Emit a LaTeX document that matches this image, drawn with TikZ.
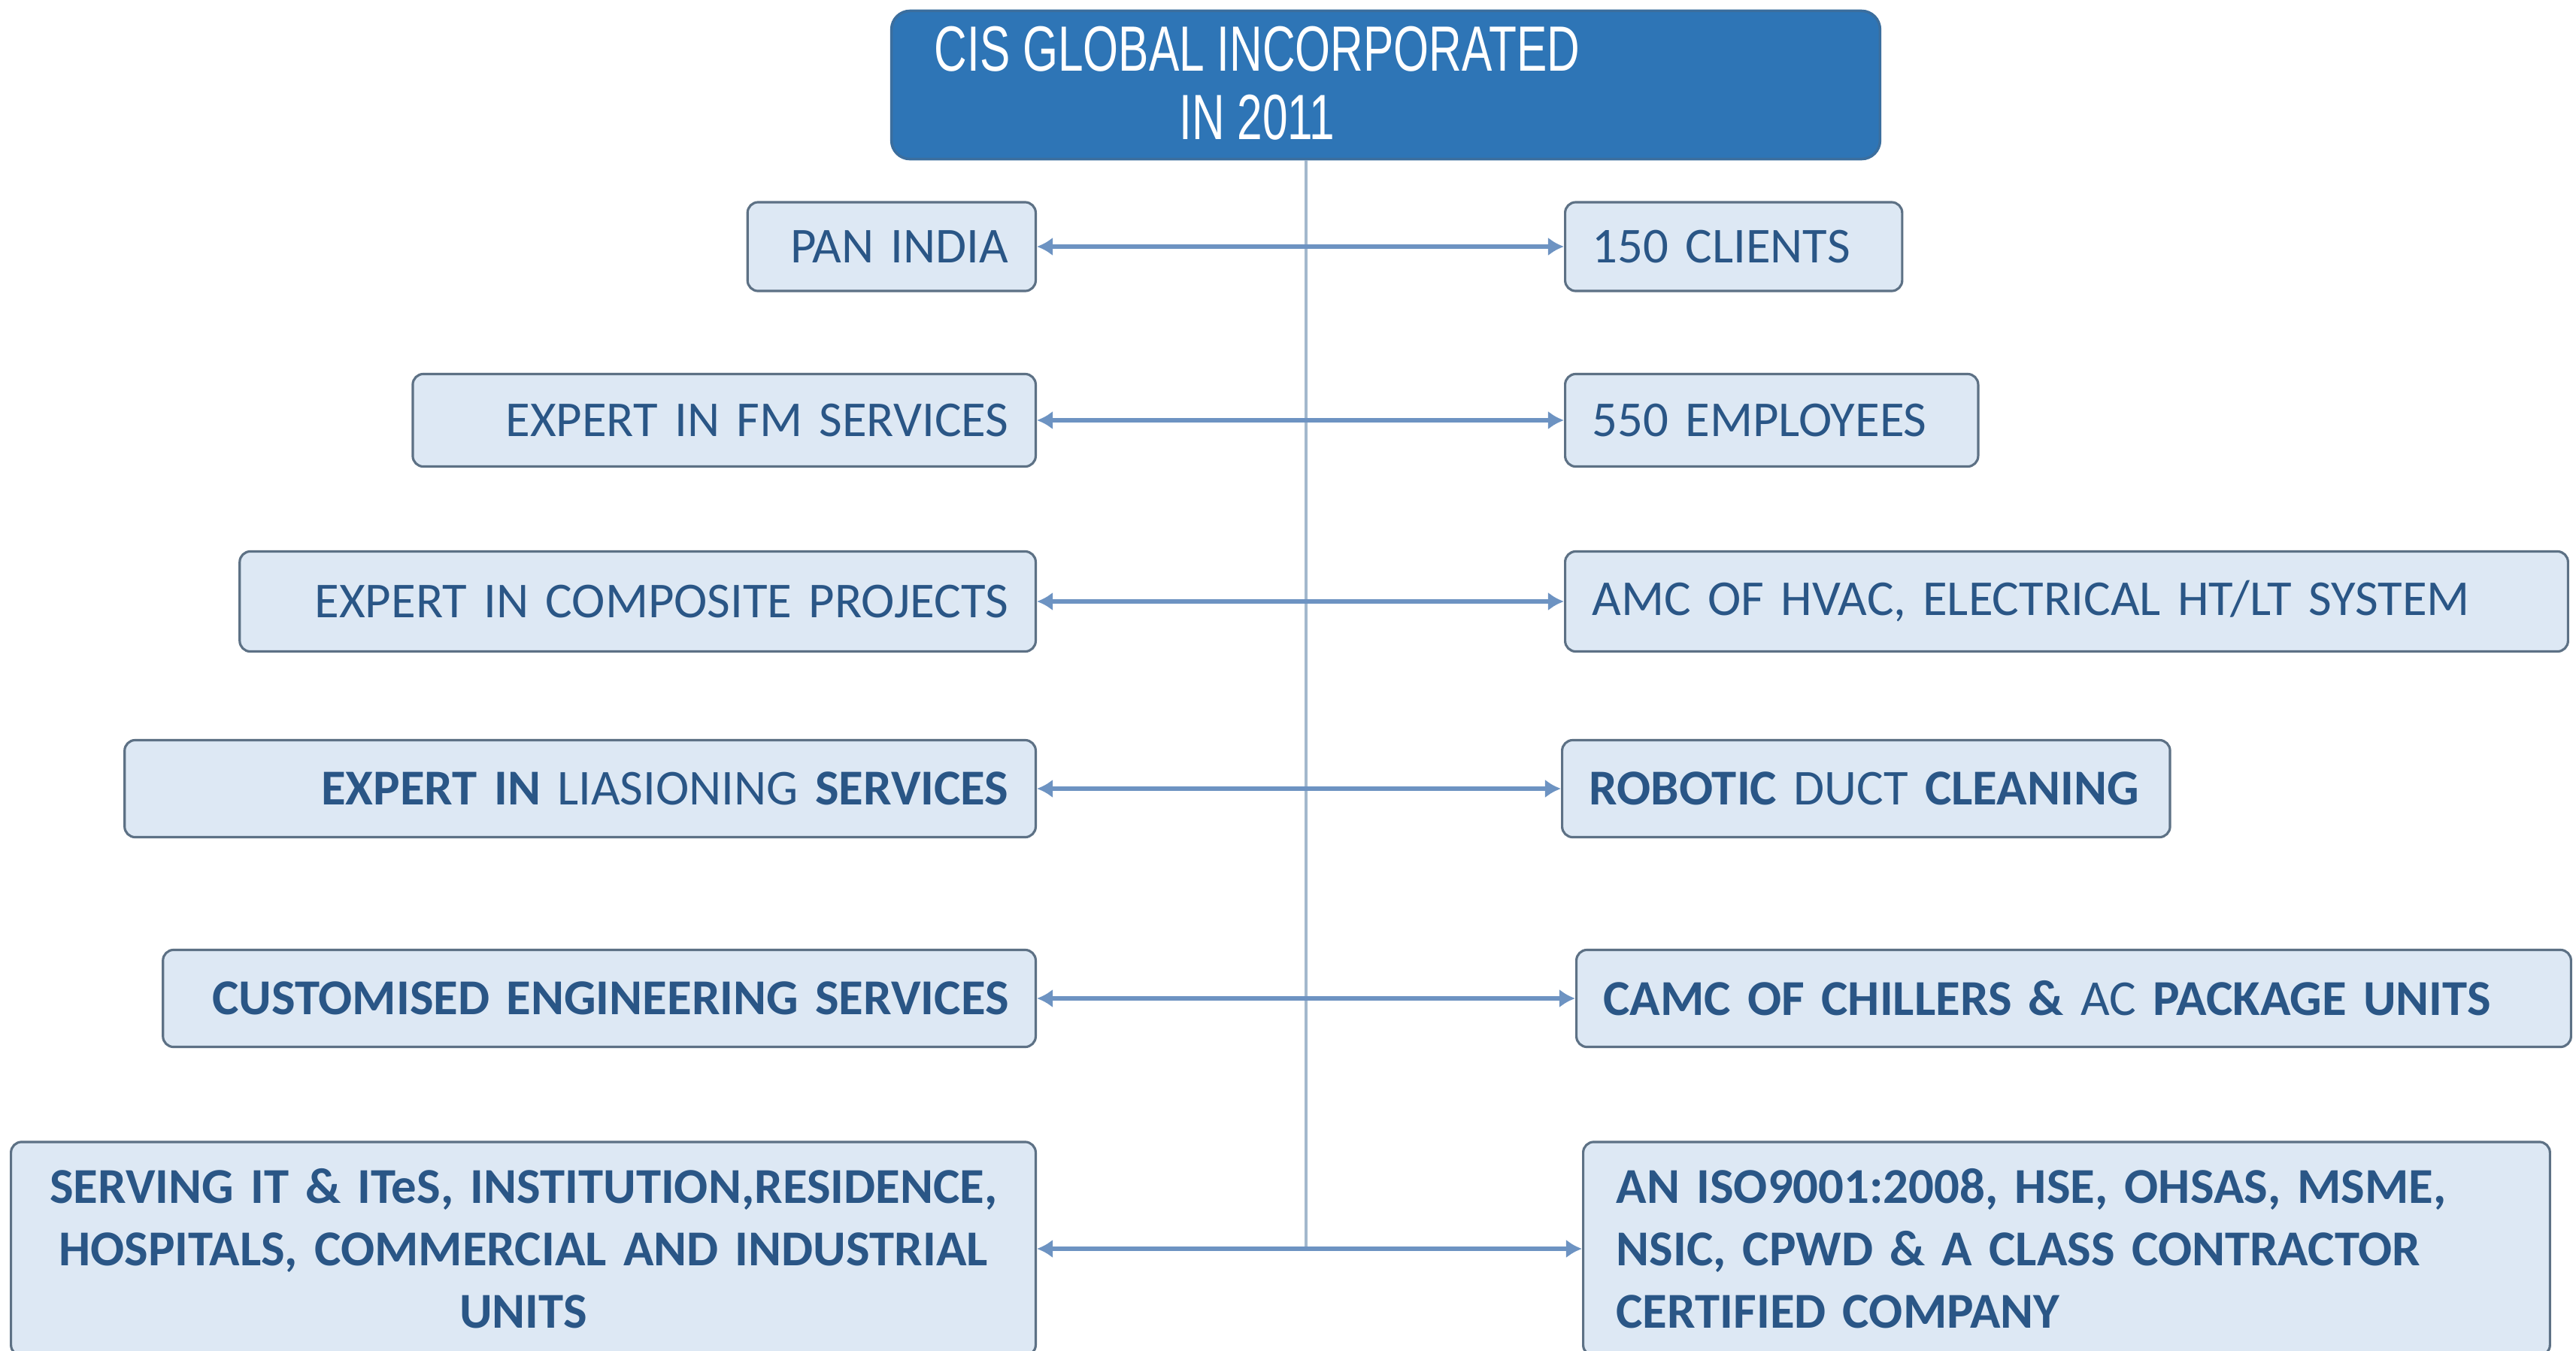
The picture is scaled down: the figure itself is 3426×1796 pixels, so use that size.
\documentclass[tikz,border=0pt]{standalone}
\usepackage{fontspec}
\usetikzlibrary{arrows.meta}
\newfontfamily\itemfont{Carlito}
\newfontfamily\titlefont{Liberation Sans}
\definecolor{titlefill}{HTML}{2E75B6}
\definecolor{titleline}{HTML}{3B6E9E}
\definecolor{itemfill}{HTML}{DDE8F4}
\definecolor{itemline}{HTML}{5D7185}
\definecolor{itemtext}{HTML}{2A5686}
\definecolor{linkblue}{HTML}{6D93C2}
\definecolor{stemblue}{HTML}{A3B8CD}
\tikzset{
	item/.style={draw=itemline, fill=itemfill, line width=0.9pt, rounded corners=4pt,
		inner xsep=0.36cm, inner ysep=0pt, text=itemtext,
		font=\itemfont\fontsize{19}{23.6}\selectfont},
	left item/.style={item, anchor=east, align=right},
	right item/.style={item, anchor=west, align=left},
	bold item/.style={font=\itemfont\fontsize{19}{23.6}\selectfont\bfseries},
	link/.style={linkblue, line width=1.8pt, {Latex[length=6pt,width=7pt]}-{Latex[length=6pt,width=7pt]}}
	}

\begin{document}
\begin{tikzpicture}[x=0.01cm, y=-0.01cm]

	\path[use as bounding box, fill=white] (0,0) rectangle (3426,1796);

	% title box
	\node[draw=titleline, fill=titlefill, line width=1pt, rounded corners=7pt,
		minimum width=13.14cm, minimum height=1.97cm] (top) at (1843,113) {};
	\node[text=white, inner sep=0pt, font=\titlefont\fontsize{24.2}{25.9}\selectfont] (title) at (1672,122)
		{\scalebox{0.71}[1]{\begin{tabular}{@{}c@{}}CIS GLOBAL INCORPORATED\\IN 2011\end{tabular}}};

	% left column
	\node[left item, minimum width=3.83cm, text width=3.11cm, minimum height=1.18cm] (pan) at (1379,328) {PAN INDIA};
	\node[left item, minimum width=8.28cm, text width=7.56cm, minimum height=1.23cm] (fm) at (1379,559) {EXPERT IN FM SERVICES};
	\node[left item, minimum width=10.58cm, text width=9.86cm, minimum height=1.33cm] (composite) at (1379,800) {EXPERT IN COMPOSITE PROJECTS};
	\node[left item, minimum width=12.11cm, text width=11.39cm, minimum height=1.29cm] (liaison) at (1379,1049)
		{\textbf{EXPERT IN} LIASIONING \textbf{SERVICES}};
	\node[left item, bold item, minimum width=11.60cm, text width=10.88cm, minimum height=1.29cm] (engg) at (1379,1328)
		{CUSTOMISED ENGINEERING SERVICES};
	\node[left item, bold item, align=center, minimum width=13.62cm, text width=12.90cm, minimum height=2.84cm] (sectors) at (1379,1661)
		{SERVING IT \& ITeS, INSTITUTION,RESIDENCE,\\HOSPITALS, COMMERCIAL AND INDUSTRIAL\\UNITS};

	% right column
	\node[right item, minimum width=4.48cm, text width=3.76cm, minimum height=1.18cm] (clients) at (2080,328) {150 CLIENTS};
	\node[right item, minimum width=5.49cm, text width=4.77cm, minimum height=1.23cm] (staff) at (2080,559) {550 EMPLOYEES};
	\node[right item, minimum width=13.33cm, text width=12.61cm, minimum height=1.33cm] (hvac) at (2080,800)
		{AMC OF HVAC, ELECTRICAL HT/LT SYSTEM};
	\node[right item, minimum width=8.08cm, text width=7.36cm, minimum height=1.29cm] (robotic) at (2076,1049)
		{\textbf{ROBOTIC} DUCT \textbf{CLEANING}};
	\node[right item, minimum width=13.22cm, text width=12.50cm, minimum height=1.29cm] (camc) at (2095,1328)
		{\textbf{CAMC OF CHILLERS \&} AC \textbf{PACKAGE UNITS}};
	\node[right item, bold item, inner xsep=0.44cm, minimum width=12.85cm, text width=11.97cm, minimum height=2.84cm] (iso) at (2104,1661)
		{AN ISO9001:2008, HSE, OHSAS, MSME,\\NSIC, CPWD \& A CLASS CONTRACTOR\\CERTIFIED COMPANY};

	% stem from the title
	\coordinate (stem) at (1737,1661);
	\draw[stemblue, line width=0.9pt] (top.south -| stem) -- (stem);

	% links between the two columns
	\draw[link] (pan.east) -- (clients.west);
	\draw[link] (fm.east) -- (staff.west);
	\draw[link] (composite.east) -- (hvac.west);
	\draw[link] (liaison.east) -- (robotic.west);
	\draw[link] (engg.east) -- (camc.west);
	\draw[link] (sectors.east) -- (iso.west);

\end{tikzpicture}
\end{document}
